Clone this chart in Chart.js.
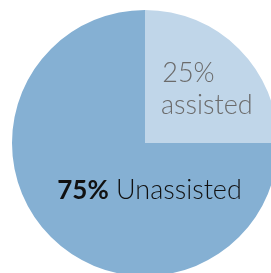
<!DOCTYPE html>
<html>
<head>
<meta charset="utf-8">
<script src="https://cdn.jsdelivr.net/npm/chart.js@4"></script>
<style>
  html, body { margin: 0; padding: 0; background: #fff; overflow: hidden; width: 271px; height: 273px; }
  #wrap { position: absolute; left: 12px; top: 10px; width: 266px; height: 266px; }
</style>
</head>
<body>
<div id="wrap"><canvas id="pieChart"></canvas></div>
<script>
const categories = ['assisted', 'Unassisted'];
const shares = [25, 75];
const sliceColors = ['#c0d6e9', '#85b0d3'];

// draws the in-slice labels
const sliceLabels = {
  id: 'sliceLabels',
  afterDatasetsDraw(chart) {
    const ctx = chart.ctx;
    const arcs = chart.getDatasetMeta(0).data;
    const cx = arcs[0].x;
    const cy = arcs[0].y;
    const r = arcs[0].outerRadius;

    ctx.save();
    ctx.textBaseline = 'alphabetic';
    ctx.textAlign = 'left';

    // small slice
    ctx.fillStyle = '#6b6b6b';
    ctx.font = '300 27px Lato';
    ctx.fillText(shares[0] + '%', cx + 0.13 * r, cy - 0.455 * r);
    ctx.fillText(categories[0], cx + 0.12 * r, cy - 0.215 * r);

    // big slice
    const pct = shares[1] + '%';
    ctx.font = 'bold 26px Lato';
    const startX = cx - 0.66 * r;
    const y = cy + 0.42 * r;
    ctx.fillStyle = '#111';
    ctx.fillText(pct, startX, y);
    const w = ctx.measureText(pct).width;
    ctx.font = '300 27px Lato';
    ctx.fillText(' ' + categories[1], startX + w, y);
    ctx.restore();
  }
};

new Chart(document.getElementById('pieChart'), {
  type: 'pie',
  data: {
    labels: categories,
    datasets: [{
      data: shares,
      backgroundColor: sliceColors,
      borderWidth: 0
    }]
  },
  options: {
    responsive: true,
    maintainAspectRatio: false,
    animation: false,
    layout: { padding: 0 },
    plugins: {
      legend: { display: false },
      tooltip: { enabled: false }
    }
  },
  plugins: [sliceLabels]
});
</script>
</body>
</html>
